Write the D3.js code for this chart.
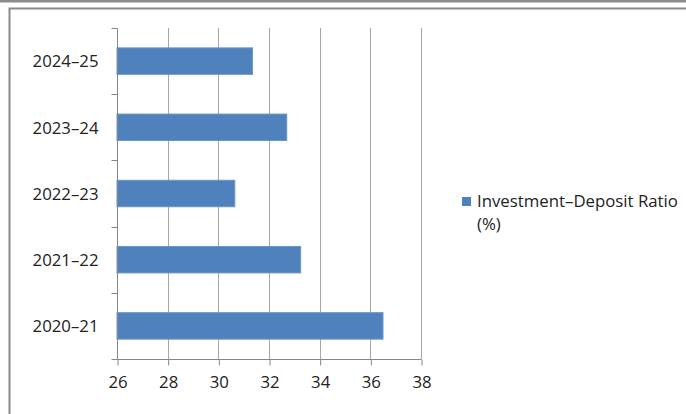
<!DOCTYPE html>
<html>
<head>
<meta charset="utf-8">
<script src="https://cdn.jsdelivr.net/npm/d3@7"></script>
<style>
  html, body { margin: 0; padding: 0; background: #fff; }
  svg { display: block; }
  text { font-family: "Open Sans", "Noto Sans", sans-serif; fill: #222; }
</style>
</head>
<body>
<svg id="chart" width="686" height="414"></svg>
<script>
// Investment–Deposit Ratio (%) by financial year
const categories = ["2020–21", "2021–22", "2022–23", "2023–24", "2024–25"];
const ratioValues = [36.5, 33.25, 30.65, 32.7, 31.35];
const xTicks = [26, 28, 30, 32, 34, 36, 38];
const seriesName = ["Investment–Deposit Ratio", "(%)"];

const fontSize = 16.8;
const svg = d3.select("#chart");

// outer frame lines
svg.append("rect").attr("x", 0).attr("y", 0).attr("width", 686).attr("height", 2.5).attr("fill", "#8c8c8c");
svg.append("path")
  .attr("d", "M9.5,420 V8.5 H690")
  .attr("fill", "none").attr("stroke", "#8a8a8a").attr("stroke-width", 2);

const plot = { left: 117, right: 421, top: 28, bottom: 359 };

const x = d3.scaleLinear().domain([26, 38]).range([plot.left, plot.right]);
const y = d3.scaleBand()
  .domain(categories.slice().reverse())
  .range([plot.top, plot.bottom])
  .paddingInner(0.6).paddingOuter(0.3);
const yBand = d3.scaleBand().domain(categories.slice().reverse()).range([plot.top, plot.bottom]);

// vertical gridlines
svg.append("g").selectAll("line").data(xTicks.slice(1)).join("line")
  .attr("x1", d => Math.round(x(d)) + 0.5).attr("x2", d => Math.round(x(d)) + 0.5)
  .attr("y1", plot.top).attr("y2", plot.bottom)
  .attr("stroke", "#a6a6a6").attr("stroke-width", 1);

// bars
svg.append("g").selectAll("rect").data(categories).join("rect")
  .attr("x", x(26))
  .attr("y", d => y(d))
  .attr("width", (d, i) => x(ratioValues[i]) - x(26))
  .attr("height", y.bandwidth())
  .attr("fill", "#4f81bd")
  .attr("stroke", "#6a96cc").attr("stroke-width", 1);

// x axis
const xAxis = d3.axisBottom(x).tickValues(xTicks).tickSize(6).tickPadding(11).tickFormat(d3.format("d"));
const gx = svg.append("g").attr("transform", `translate(0.5,${plot.bottom + 0.5})`).call(xAxis);
gx.select(".domain").attr("stroke", "#868686").attr("d", `M${plot.left},0H${plot.right}`);
gx.selectAll(".tick line").attr("stroke", "#868686");
gx.selectAll(".tick text").attr("font-size", fontSize).attr("fill", "#222").attr("dy", "0.71em");

// y axis: ticks at category boundaries
const gy = svg.append("g").attr("transform", `translate(${plot.left + 0.5},0.5)`);
gy.append("line").attr("x1", 0).attr("x2", 0).attr("y1", plot.top).attr("y2", plot.bottom).attr("stroke", "#868686");
const bounds = categories.map(c => yBand(c)).concat([plot.bottom]);
gy.selectAll("line.tk").data(bounds).join("line").attr("class", "tk")
  .attr("x1", -6).attr("x2", 0).attr("y1", d => Math.round(d)).attr("y2", d => Math.round(d))
  .attr("stroke", "#868686");
gy.selectAll("text").data(categories).join("text")
  .attr("x", -19).attr("y", d => yBand(d) + yBand.bandwidth() / 2)
  .attr("dy", "0.35em").attr("text-anchor", "end")
  .attr("font-size", fontSize).text(d => d);

// legend
const lg = svg.append("g").attr("transform", "translate(462,197)");
lg.append("rect").attr("width", 9).attr("height", 9).attr("fill", "#4f81bd");
lg.selectAll("text").data(seriesName).join("text")
  .attr("x", 15).attr("y", (d, i) => 10 + i * 23)
  .attr("font-size", fontSize).text(d => d);
</script>
</body>
</html>
